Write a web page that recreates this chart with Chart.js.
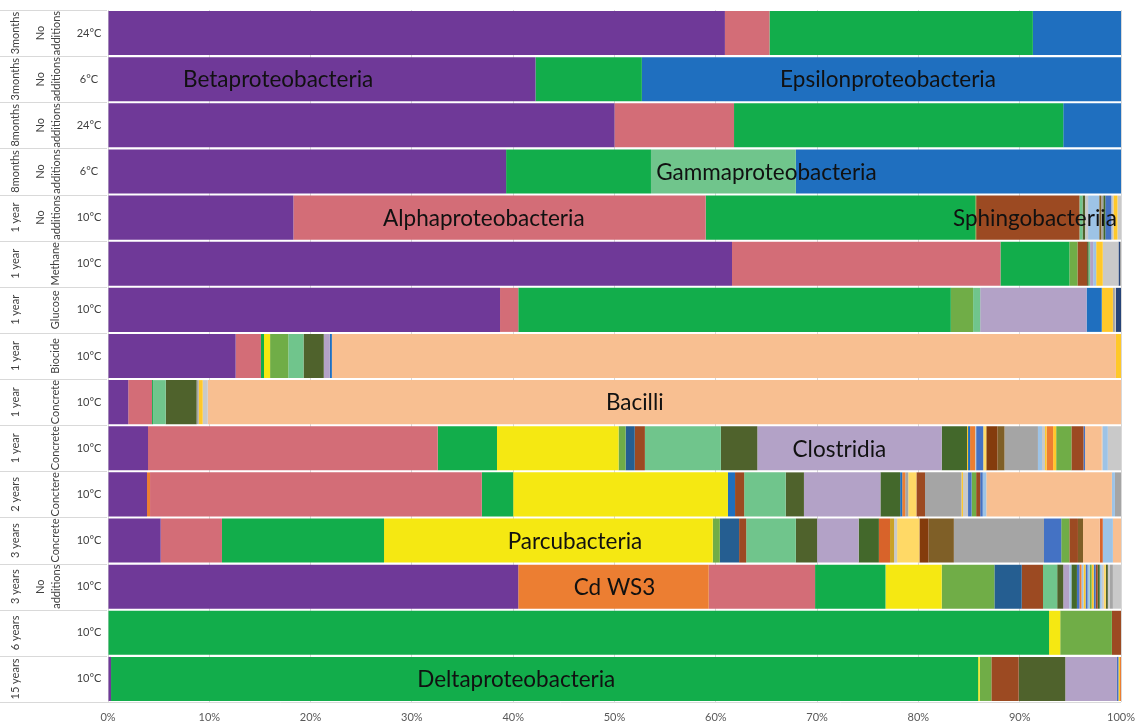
<!DOCTYPE html>
<html>
<head>
<meta charset="utf-8">
<script src="https://cdn.jsdelivr.net/npm/chart.js@4.4.1/dist/chart.umd.min.js"></script>
<style>
  html, body { margin: 0; padding: 0; background: #fff; }
  #wrap { width: 1145px; height: 727px; }
</style>
</head>
<body>
<div id="wrap"><canvas id="chart"></canvas></div>
<script>
// row labels (three levels, top to bottom)
const rowTime = ['3months', '3months', '8months', '8months', '1 year', '1 year', '1 year', '1 year',
  '1 year', '1 year', '2 years', '3 years', '3 years', '6 years', '15 years'];
const rowTreatment = [['No', 'additions'], ['No', 'additions'], ['No', 'additions'], ['No', 'additions'],
  ['No', 'additions'], ['Methane'], ['Glucose'], ['Biocide'], ['Concrete'], ['Concrete'], ['Conctere'],
  ['Concrete'], ['No', 'additions'], [], []];
const rowTemp = ['24°C', '6°C', '24°C', '6°C', '10°C', '10°C', '10°C', '10°C', '10°C', '10°C',
  '10°C', '10°C', '10°C', '10°C', '10°C'];

// relative abundance (%) per row, segments left to right
const r01 = [['beta', 60.9], ['alpha', 4.4], ['delta', 26.0], ['epsilon', 8.7]];
const r02 = [['beta', 42.2], ['delta', 10.5], ['epsilon', 47.3]];
const r03 = [['beta', 50.0], ['alpha', 11.8], ['delta', 32.5], ['epsilon', 5.7]];
const r04 = [['beta', 39.3], ['delta', 14.3], ['gamma', 14.3], ['epsilon', 32.1]];
const r05 = [['beta', 18.3], ['alpha', 40.7], ['delta', 26.6], ['olive', 0.1], ['sphingo', 10.2],
  ['gamma', 0.3], ['darkolive', 0.25], ['lightgrey', 0.3], ['lightblue', 1.1], ['tanbrown', 0.2],
  ['grey', 0.2], ['darkgreen', 0.2], ['steel', 0.6], ['lightgrey', 0.2], ['gold', 0.4], ['lightgrey', 0.35]];
const r06 = [['beta', 61.6], ['alpha', 26.5], ['delta', 6.8], ['olive', 0.8], ['sphingo', 0.95],
  ['darkolive', 0.15], ['gamma', 0.15], ['clostridia', 0.3], ['lightblue', 0.3], ['gold', 0.65],
  ['lightgrey', 1.55], ['navy', 0.15], ['grey', 0.1]];
const r07 = [['beta', 38.7], ['alpha', 1.8], ['delta', 42.7], ['olive', 2.2], ['gamma', 0.7],
  ['clostridia', 10.5], ['epsilon', 1.5], ['gold', 1.1], ['grey', 0.2], ['lightgrey', 0.1], ['navy', 0.5]];
const r08 = [['beta', 12.6], ['alpha', 2.5], ['delta', 0.3], ['yellow', 0.6], ['olive', 1.8],
  ['gamma', 1.5], ['darkolive', 2.0], ['clostridia', 0.6], ['epsilon', 0.2], ['bacilli', 77.4], ['gold', 0.5]];
const r09 = [['beta', 2.0], ['alpha', 2.35], ['delta', 0.1], ['gamma', 1.25], ['darkolive', 3.05],
  ['grey', 0.2], ['gold', 0.4], ['lightgrey', 0.5], ['bacilli', 90.15]];
const r10 = [['beta', 3.95], ['alpha', 28.6], ['delta', 5.85], ['yellow', 12.0], ['olive', 0.7],
  ['darkblue', 0.9], ['sphingo', 1.0], ['gamma', 7.5], ['darkolive', 3.6], ['clostridia', 18.2],
  ['darkgreen', 2.5], ['gold', 0.1], ['epsilon', 0.2], ['orange', 0.5], ['lightgrey', 0.1], ['steel', 0.7],
  ['paleyellow', 0.3], ['darkbrown', 1.1], ['tanbrown', 0.7], ['grey', 3.3], ['lightblue', 0.4],
  ['lightgrey', 0.3], ['gold', 0.15], ['orange', 0.65], ['gold', 0.3], ['olive', 1.5], ['sphingo', 1.2],
  ['steel', 0.15], ['bacilli', 1.65], ['lightgrey', 0.1], ['lightblue', 0.5], ['lightgrey', 1.3]];
const r11 = [['beta', 3.85], ['orange', 0.3], ['alpha', 32.75], ['delta', 3.1], ['yellow', 21.2],
  ['epsilon', 0.7], ['sphingo', 0.9], ['gamma', 4.1], ['darkolive', 1.8], ['clostridia', 7.55],
  ['darkgreen', 1.95], ['epsilon', 0.2], ['orange', 0.3], ['grey', 0.3], ['paleyellow', 0.8],
  ['sphingo', 0.85], ['grey', 3.6], ['gold', 0.15], ['lightgrey', 0.5], ['steel', 0.35], ['olive', 0.45],
  ['sphingo', 0.4], ['steel', 0.25], ['lightblue', 0.35], ['bacilli', 12.4], ['lightblue', 0.3], ['grey', 0.6]];
const r12 = [['beta', 5.2], ['alpha', 6.05], ['delta', 16.0], ['yellow', 32.45], ['olive', 0.7],
  ['darkblue', 1.9], ['sphingo', 0.7], ['gamma', 4.9], ['darkolive', 2.1], ['clostridia', 4.1],
  ['darkgreen', 2.0], ['redorange', 1.1], ['goldenrod', 0.4], ['lightgrey', 0.3], ['paleyellow', 2.2],
  ['darkbrown', 0.9], ['tanbrown', 2.5], ['grey', 8.9], ['steel', 1.7], ['olive', 0.8], ['sphingo', 0.85],
  ['tanbrown', 0.5], ['bacilli', 1.65], ['redorange', 0.3], ['lightblue', 1.0], ['bacilli', 0.8]];
const r13 = [['beta', 40.5], ['cdws3', 18.8], ['alpha', 10.5], ['delta', 6.95], ['yellow', 5.55],
  ['olive', 5.2], ['darkblue', 2.7], ['sphingo', 2.1], ['gamma', 1.4], ['darkolive', 0.6],
  ['clostridia', 0.6], ['lightblue', 0.2], ['darkgreen', 0.55], ['steel', 0.25], ['orange', 0.2],
  ['lightblue', 0.2], ['gold', 0.2], ['steel', 0.2], ['lightblue', 0.2], ['olive', 0.2], ['gold', 0.2],
  ['steel', 0.2], ['sphingo', 0.2], ['darkgreen', 0.2], ['lightblue', 0.2], ['lightgrey', 0.2],
  ['paleyellow', 0.2], ['darkolive', 0.2], ['lightgrey', 0.2], ['grey', 0.3], ['lightgrey', 0.8]];
const r14 = [['delta', 92.9], ['yellow', 1.1], ['olive', 5.1], ['sphingo', 0.9]];
const r15 = [['beta', 0.3], ['delta', 85.6], ['yellow', 0.15], ['olive', 1.15], ['sphingo', 2.7],
  ['darkolive', 4.6], ['clostridia', 5.1], ['steel', 0.15], ['gold', 0.15], ['orange', 0.1]];

const rows = [r01, r02, r03, r04, r05, r06, r07, r08, r09, r10, r11, r12, r13, r14, r15];

// taxon names written on the bars: [text, x in %, row index]
const taxonLabels = [
  ['Betaproteobacteria', 16.8, 1],
  ['Epsilonproteobacteria', 77.0, 1],
  ['Gammaproteobacteria', 65.0, 3],
  ['Alphaproteobacteria', 37.1, 4],
  ['Sphingobacteriia', 91.5, 4],
  ['Bacilli', 52.0, 8],
  ['Clostridia', 72.2, 9],
  ['Parcubacteria', 46.1, 11],
  ['Cd WS3', 50.0, 12],
  ['Deltaproteobacteria', 40.3, 14]
];

const colors = {
  beta: '#6F3998', alpha: '#D36D77', delta: '#12AD4B', epsilon: '#1F6FBF', gamma: '#70C58C',
  sphingo: '#9C4A22', bacilli: '#F8BF91', clostridia: '#B3A2C7', yellow: '#F5E812', cdws3: '#EC7E32',
  orange: '#EC7E32', olive: '#70AD47', darkolive: '#4F622C', darkblue: '#255E91', grey: '#A5A5A5',
  darkgreen: '#43682B', lightblue: '#9DC3E6', gold: '#FFC82A', lightgrey: '#C9C9C9',
  darkbrown: '#843C0C', tanbrown: '#7F5F27', paleyellow: '#FFD966', steel: '#4472C4',
  navy: '#264478', redorange: '#D8632A', goldenrod: '#C9A227'
};

// build one dataset per segment position
var maxSeg = Math.max.apply(null, rows.map(function(r) { return r.length; }));
var datasets = [];
for (var k = 0; k < maxSeg; k++) {
  datasets.push({
    data: rows.map(function(r) { return r[k] ? r[k][1] : 0; }),
    backgroundColor: rows.map(function(r) { return r[k] ? colors[r[k][0]] : 'rgba(0,0,0,0)'; }),
    borderWidth: 0,
    barPercentage: 0.955,
    categoryPercentage: 1.0
  });
}

const FONT = 'Lato, "Open Sans", sans-serif';

// left hand category labels and row separators
var rowLabelsPlugin = {
  id: 'rowLabels',
  afterDraw: function(chart) {
    var ctx = chart.ctx, area = chart.chartArea, ys = chart.scales.y;
    var n = rowTime.length, rowH = (area.bottom - area.top) / n;
    ctx.save();
    ctx.strokeStyle = '#D9D9D9';
    ctx.lineWidth = 1;
    for (var i = 0; i <= n; i++) {
      var yy = Math.round(area.top + i * rowH) + 0.5;
      ctx.beginPath();
      ctx.moveTo(0, yy);
      ctx.lineTo(i == n ? area.right : area.left - 1, yy);
      ctx.stroke();
    }
    ctx.fillStyle = '#404040';
    ctx.textBaseline = 'middle';
    ctx.textAlign = 'center';
    for (var i = 0; i < n; i++) {
      var cy = ys.getPixelForValue(i);
      ctx.font = '11px ' + FONT;
      ctx.fillText(rowTemp[i], 89, cy);
      // rotated labels
      ctx.save();
      ctx.translate(0, cy);
      ctx.rotate(-Math.PI / 2);
      ctx.fillText(rowTime[i], 0, 15);
      var tr = rowTreatment[i];
      if (tr.length == 2) {
        ctx.fillText(tr[0], 0, 40);
        ctx.fillText(tr[1], 0, 56);
      } else if (tr.length == 1) {
        ctx.fillText(tr[0], 0, 55);
      }
      ctx.restore();
    }
    ctx.restore();
  }
};

var taxonLabelsPlugin = {
  id: 'taxonLabels',
  afterDatasetsDraw: function(chart) {
    var ctx = chart.ctx, xs = chart.scales.x, ys = chart.scales.y;
    ctx.save();
    ctx.font = '22.5px ' + FONT;
    ctx.fillStyle = '#111';
    ctx.textAlign = 'center';
    ctx.textBaseline = 'middle';
    taxonLabels.forEach(function(t) {
      ctx.fillText(t[0], xs.getPixelForValue(t[1]), ys.getPixelForValue(t[2]) + 1);
    });
    ctx.restore();
  }
};

var chart = new Chart(document.getElementById('chart').getContext('2d'), {
  type: 'bar',
  data: { labels: rowTime.map(function(t, i) { return t + ' ' + rowTemp[i]; }), datasets: datasets },
  options: {
    indexAxis: 'y',
    responsive: true,
    maintainAspectRatio: false,
    animation: false,
    layout: { padding: { left: 108, right: 24, top: 10, bottom: 0 } },
    plugins: { legend: { display: false }, tooltip: { enabled: false } },
    scales: {
      x: {
        stacked: true,
        min: 0,
        max: 100,
        ticks: {
          stepSize: 10,
          padding: 9,
          color: '#595959',
          font: { family: FONT, size: 11 },
          callback: function(v) { return v + '%'; }
        },
        grid: { color: '#D9D9D9', drawTicks: false },
        border: { display: false },
        afterFit: function(s) { s.height = 25; }
      },
      y: { stacked: true, display: false }
    }
  },
  plugins: [rowLabelsPlugin, taxonLabelsPlugin]
});
</script>
</body>
</html>
